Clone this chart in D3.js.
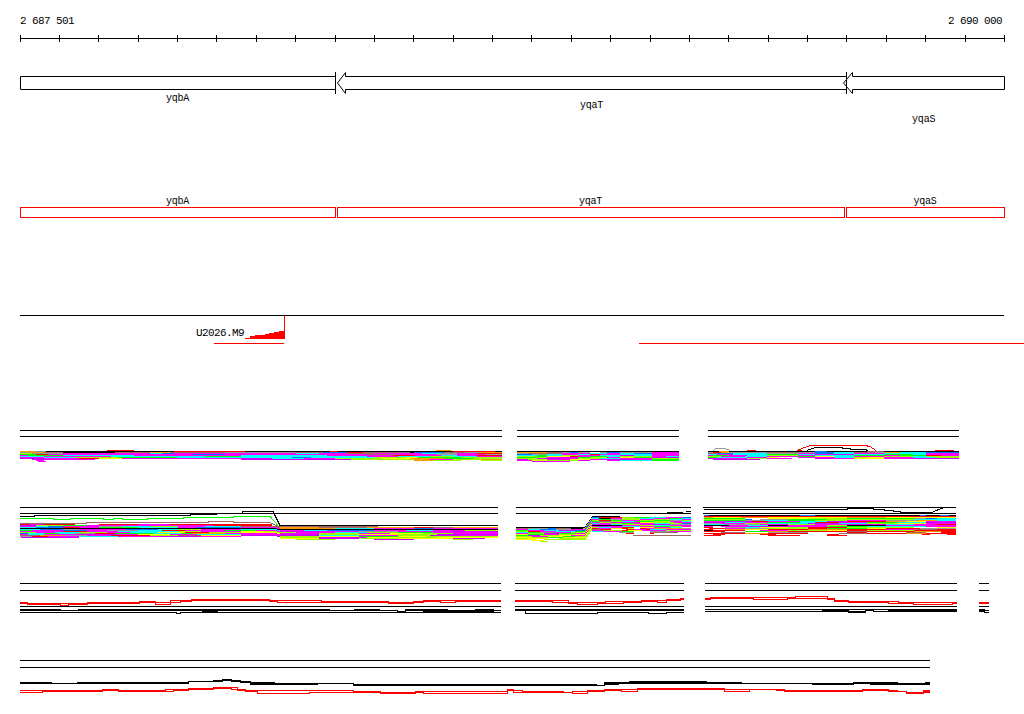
<!DOCTYPE html>
<html><head><meta charset="utf-8">
<script src="https://cdn.jsdelivr.net/npm/d3@7"></script>
<style>
body{margin:0;background:#fff}
svg{display:block}
text{font-family:"Liberation Mono","DejaVu Sans Mono",monospace;fill:#000}
</style>
</head><body>
<svg id="c" width="1024" height="714"></svg>
<script>
// ---------------- DATA ----------------
const START = 2687501, END = 2690000;           // genomic window
// genes (positions are bp offsets from START)
const geneNames  = ["yqbA", "yqaT", "yqaS"];
const geneStarts = [0, 805, 2091];
const geneEnds   = [800, 2098, 2499];
const geneStrand = ["+", "-", "-"];
const geneLabelRow = [0, 1, 2];
const cdsStarts  = [0, 805, 2098];
const cdsEnds    = [800, 2093, 2499];
const geneBounds = [800, 2098];
// motif U2026.M9 coverage histogram
const motifName = "U2026.M9";
const motifStart = 571, motifEnd = 671;
const motifCov = [1.4, 2.7, 3.7, 4.4, 5.0, 5.7, 6.7, 7.7];
const motifLines = [[493, 671], [1572, 2550]];

// colour codes used by read stripes
const colorCodes = {k:"#000000",r:"#ff0000",m:"#ff00ff",p:"#cc00ff",c:"#00ffff",b:"#0073ff",
  g:"#00ff00",l:"#99ff00",y:"#ffff00",o:"#ff9900",n:"#a06666",a:"#999999",w:"#ffffff"};

// ---- track 1 (reads, stripes: colour+start offset) ----
const t1p1 = ["-0 r220 -290 o1057 -1095",
 "o0 a35 k65 r390 k572 r787 k808 r1100 k1206",
 "a0 o25 n60 k110 n240 o330 n380 a520 n700 b770 r830 n870 k990 b1000 n1080 a1130 o1170",
 "l0 a30 m110 c330 b360 m390 c700 m760 n830 m900 c1020 a1070 m1110 r1160",
 "g0 r40 m70 b440 m520 n880 m960 a1060 m1110 a1180",
 "m0 g20 c110 m290 c560 m780 r950 m1000 c1070 m1110 r1160",
 "c0 m60 c230 g470 c560 m880 c960 l1040 c1100 m1160",
 "m0 c60 l140 g250 c400 b690 c740 l900 y980 g1010 l1120",
 "p0 m60 r150 y200 m260 p560 c640 m720 l800 y920 o990 g1080 l1150",
 "-0 p30 m70 -190 p560 l840 o1000 m1040 l1100 o1170",
 "-0 m40 -60 o1000 l1050 -1120 l1170",
 "-0 m45 -65"];
const t1p2 = ["k1262",
 "o1262 n1338 a1376 b1397 a1418 w1448 a1473 b1490 a1524 m1604",
 "a1262 n1290 m1376 c1448 m1490 c1524 b1560 m1604",
 "b1262 a1300 c1338 m1376 c1418 r1448 m1473 c1524 m1604",
 "c1262 g1312 c1338 l1376 m1418 c1473 p1524 c1560 m1604",
 "l1262 g1312 y1338 r1397 m1418 g1448 c1490 l1524 m1604 c1640",
 "g1262 l1312 m1338 p1376 g1418 l1448 m1490 y1524 g1560 p1604",
 "l1262 p1312 m1376 l1418 c1473 m1524 l1604",
 "p1262 l1290 m1338 y1397 m1448 p1490 m1560 g1604",
 "m1262 y1300 l1338 p1418 w1448 m1490 c1524 g1604",
 "-1262 p1300 m1338 -1397"];
const t1p3 = ["-1746 r1846 -1870 r1974 -1985 r2325 -2371",
 "k1746 o1775 k1800 b2019 k2050 n2150 k2193",
 "a1746 r1761 o1780 a1803 n1896 a1975 b2019 c2066 n2117 a2170 o2193 c2235 b2300",
 "n1746 b1770 c1810 a1896 m1975 b2019 c2066 m2117 c2193 m2300",
 "c1746 m1770 c1810 g1896 c1975 m2019 p2066 c2117 g2193 c2269 m2300",
 "m1746 g1761 m1800 c1846 l1896 m1975 c2019 g2117 m2193 g2235 r2300 m2340",
 "l1746 m1780 c1840 m1896 g1975 y2019 c2066 m2117 l2193 c2269 l2300",
 "g1746 c1770 m1846 y1896 w1930 m1975 c2066 l2117 y2150 m2193 c2269 l2325",
 "p1746 m1780 l1846 m1896 -1960 p2019 m2066 y2117 m2193 p2269",
 "-1746 p1761 -1880"];
const t1Arcs = [
 {color:"#999999", pts:[[1761,20],[1768,18],[1791,18],[1804,20]]},
 {color:"#ff0000", pts:[[1974,20],[1985,18],[1998,16],[2010,15],[2146,15],[2159,16],[2173,20]]},
 {color:"#000000", pts:[[1998,20],[2019,17],[2087,17],[2087,18],[2108,18],[2108,19],[2146,19],[2154,20]]}];

// ---- track 2 ----
const t2p1 = ["-0 r107 -168",
 "r0 m25 r60 w140 r200 m300 r380 -640",
 "p0 l40 g110 m170 r490 -640",
 "m0 c40 b70 m110 a200 c260 l330 m400 c470 n560 o660 n760 o880 r1000 n1050 o1100",
 "c0 b40 r110 m150 g200 c300 m400 b450 m560 o660 c800 m900 b1000 m1050",
 "k0",
 "c0 b50 a110 m150 b270 c350 l400 m460 c560 m660 c720 b780 m900 c980 m1050 l1130",
 "g0 m30 b110 m170 a220 c300 r360 m420 g520 m600 p660 m760 a860 m960 p1100",
 "m0 r110 m170 c250 l400 m460 y560 l620 m700 c800 l880 g960 m1050",
 "l0 m40 c90 l150 m220 c280 y350 r420 l480 y560 m660 l760 m860 y940 l1020 m1100",
 "b0 c20 g60 c100 a140 r190 g240 c340 g410 o440 m520 p660 l760 y860 l960 p1060",
 "m0 c20 m60 p150 m250 y300 m380 c450 m560 p660 c760 m860 l960 p1040 m1120",
 "n0 o50 a110 m170 r230 l330 n400 y460 p560 l660 y760 g860 y960 l1030",
 "a0 r30 m70 c150 m250 p350 m460 -560 l660 p760 y880 l960 y1060",
 "-0 p3 -150 -560 y660 p760 l860 y960 p1100 -1180",
 "-0 l700 -800 p900 -1000 l1100 -1150"];
const t2p2 = ["-1260 k1452 -1524",
 "k1260 b1452 r1470 l1530 g1560 c1600 m1640 b1680",
 "n1260 a1290 b1340 n1360 k1400 l1430 c1452 k1470 m1500 l1530 c1575 m1610 g1650 c1680",
 "m1260 c1290 b1320 a1360 m1400 m1452 g1470 a1500 l1530 m1575 l1610 c1650 m1680",
 "g1260 m1290 c1330 p1370 b1410 l1452 r1470 g1500 m1530 l1575 g1610 a1650 l1680",
 "l1260 r1290 m1320 c1360 g1410 g1452 n1470 l1500 c1530 g1560 l1610 m1650 c1680",
 "c1260 g1290 a1320 m1360 l1400 m1452 l1470 p1500 m1530 y1575 l1610 m1660",
 "m1260 l1290 p1330 g1370 m1410 c1452 m1470 l1500 g1530 m1560 c1610 l1650 b1680",
 "y1260 g1290 m1330 l1370 y1410 p1452 m1470 c1500 l1530 m1575 p1610 a1650",
 "g1260 p1290 l1320 y1370 m1400 k1452 m1530 l1575 c1610 m1650",
 "l1260 m1300 y1340 g1380 l1410 m1452 p1470 m1500 c1530 m1575 g1610 l1650 m1680",
 "y1260 l1300 g1340 y1380 l1452 c1470 m1500 r1530 w1560 y1575 m1610 c1650 w1680",
 "l1260 y1290 -1340 l1370 r1452 m1470 y1500 r1530 l1545 w1560 r1575 m1590 o1610 a1680",
 "y1260 -1310 l1330 n1452 r1475 w1500 r1540 m1560 r1590 c1600 m1640",
 "-1260 y1300 -1330 m1452 l1480 r1530 y1545 m1580 l1640",
 "-1260 l1320 -1340 c1452 m1480 g1530 w1560 a1600 m1650",
 "-1260 w1480 a1520 -1560 n1600 -1670",
 "-1260 r1540 -1560 r1600 -1610",
 "-1260",
 "-1260 n1557"];
const t2p3 = ["b1737 k1750 b1981 k2019 b2286 k2300 b2337 k2360",
 "r1737",
 "o1737 y1760 o1830 y1900 o2100 y2200",
 "g1737 w1842 y1900 l2000 g2100 a2270 b2300 c2330",
 "l1737 b1842 w1860 a1880 g1950 l2050 c2270",
 "g1737 a1842 c1890 g1950 l2020 m2100 a2200 o2280 c2330",
 "m1737 p1790 r1860 m1900 c1981 p2050 r2100 o2200 y2250 m2300",
 "p1737 c1790 m1840 g1900 c1981 r2019 m2080 g2150 c2230 p2300",
 "a1737 m1780 l1842 c1900 p2000 c2080 l2150 y2230 m2300",
 "c1737 a1790 m1880 l1950 m2019 p2100 c2200 m2270 r2330",
 "k1737 m1800 c1850 k1900 m1950 l2050 k2100 m2200",
 "m1737 w1760 m1780 p1850 m1950 g2050 c2150 m2300",
 "r1737 w1760 a1790 c1842 y1880 l1950 r2000 l2100 w2270 y2330",
 "w1737 r1750 m1790 a1842 l1900 r2000 g2050 y2150 r2200 a2286",
 "r1737 w1760 o1790 y1842 r1900 o2000 r2100 m2200 n2270 r2330",
 "k1737 r1760 w1842 m1880 l1950 y2050 r2100 l2150 r2270",
 "r1737 w1790 g1842 o1900 r1950 n2100 r2150 o2270 r2340",
 "w1737 n1780 w1842 a1900 w2000 r2100 w2150 n2250 w2300 r2340",
 "r1737 o1842 r1900 w2000 n2080 r2150 o2250 r2300",
 "-1737 r1760 -1790 r1880 -1920 r2050 -2080 r2290 -2310 r2355",
 "r1737 -1780 r1900 -1981 r2050 -2100"];
const t2Paths = [
 {color:"#000000", pts:[[0,9],[36,9],[36,8],[432,8],[432,7],[498,7],[498,6],[564,6],[564,4],[643,4],[660,18],[1214,18]]},
 {color:"#00ff00", pts:[[0,11],[84,11],[84,12],[127,12],[127,11],[211,11],[211,12],[236,12],[236,11],[259,11],[259,12],[323,12],[323,11],[414,11],[414,10],[541,10],[541,9],[635,9],[655,18]]},
 {color:"#a06666", pts:[[0,16],[168,16],[168,15],[478,15],[478,14],[541,14],[541,15],[635,15],[655,19],[910,19]]},
 {color:"#000000", pts:[[1643,5],[1684,5]]},
 {color:"#000000", pts:[[1692,4],[1704,4]]},
 {color:"#000000", pts:[[1737,2],[2101,2],[2101,1],[2167,1],[2167,2],[2193,2],[2193,3],[2218,3],[2218,4],[2235,4],[2235,5],[2317,5],[2340,1],[2350,0],[2375,0]]}];

// ---- track 3 (paired traces: [offset, lineA, lineB, solid]) ----
const t3p1Red = [[0,19,20],[18,20,21],[102,20,22],[122,20,21],[170,19,20],[302,18,19],[343,19,21],[381,17,19],[406,17,18],[434,16,17],[632,17,18],[653,17,19],[765,18,19],[935,19,20],[998,18,19],[1024,17,18],[1067,17,19],[1105,17,18]];
const t3p1K2 = [[0,26,27],[102,27,27],[147,26,27],[785,27,27],[848,26,27],[912,27,27],[958,28,28],[978,26,27],[1084,27,27],[1156,26,27],[1201,27,27]];
const t3p1K3 = [[0,29,29],[396,30,30],[406,29,29],[462,28,29],[500,29,29],[958,28,29],[978,29,29],[1023,28,29],[1201,29,29]];
const t3p2Red = [[1257,17,18],[1351,17,19],[1392,19,20],[1414,19,21],[1465,19,20],[1486,18,20],[1531,18,19],[1577,17,18],[1618,17,19],[1641,16,17],[1676,15,16]];
const t3p2K2 = [[1257,26,27]];
const t3p2K3 = [[1257,27,27],[1283,30,30],[1465,29,29],[1595,30,30],[1641,29,29]];
const t3p3Red = [[1740,15,16],[1753,14,15],[1862,14,16],[1947,14,15],[1969,13,15],[2049,15,16],[2066,17,18],[2104,18,19],[2205,18,20],[2230,19,20],[2269,19,21],[2367,19,20]];
const t3p3K2 = [[1740,26,26]];
const t3p3K3 = [[1740,28,28],[2036,26,28,1],[2104,28,29],[2146,27,27],[2167,28,28],[2205,26,28,1]];
const t3p4Red = [[2435,19,20]];
const t3p4K2 = [[2435,26,28,1],[2447,27,29]];

// ---- track 4 ----
const t4Black = [[0,22,23],[79,23,23],[145,22,23],[427,21,21],[490,20,21],[513,19,20],[536,20,21],[559,21,22],[584,22,24,1],[645,23,24],[754,23,23],[846,24,25],[1463,25,25],[1483,22,24,1],[1519,22,23],[1547,21,23,1],[1742,22,23],[1831,23,23],[2011,23,24],[2116,22,23],[2159,22,24,1],[2227,23,24],[2299,22,24,1]];
const t4Red = [[0,30,32],[56,30,31],[208,29,30],[249,30,31],[368,29,31],[389,29,30],[427,28,29],[490,27,28],[536,27,29],[551,29,30],[572,30,31],[602,30,33],[668,30,33],[734,30,32],[846,31,32],[914,32,33],[1003,31,32],[1024,31,33],[1237,29,30],[1252,30,32],[1275,31,32],[1380,32,32],[1402,31,33],[1441,30,31],[1483,29,30],[1526,29,31],[1568,28,29],[1789,29,31],[1852,29,29],[1920,29,30],[1941,30,31],[2139,29,30],[2205,30,31],[2227,31,31],[2250,32,33],[2293,30,32,1]];

// ---------------- DRAW ----------------
const svg = d3.select("#c");
const x = d3.scaleLinear().domain([0, END - START]).range([20, 1004]);
const X = o => Math.round(x(o));
const fmt = d3.formatLocale({decimal:".", thousands:" ", grouping:[3], currency:["",""]}).format(",d");
const root = svg.append("g").attr("shape-rendering","crispEdges");

// ruler
const gx = d3.scaleLinear().domain([START, END]).range([20, 1004]);
root.append("line").attr("x1",20).attr("x2",1004).attr("y1",38.5).attr("y2",38.5).attr("stroke","#000");
const ticks = [START].concat(d3.range(2687600, END + 1, 100));
root.selectAll(".tk").data(ticks).join("line")
  .attr("x1", d => Math.round(gx(d)) + 0.5).attr("x2", d => Math.round(gx(d)) + 0.5)
  .attr("y1", 35).attr("y2", 42).attr("stroke","#000");
svg.append("text").attr("x",20).attr("y",24).style("font-size","11px").style("letter-spacing","-0.6px").text(fmt(START));
svg.append("text").attr("x",1002).attr("y",24).attr("text-anchor","end").style("font-size","11px").style("letter-spacing","-0.6px").text(fmt(END));

// gene arrows
const gTop = 76.5, gBot = 89.5, hTop = 72.5, hBot = 93.5, head = 21;
geneNames.forEach((nm, i) => {
  const s = geneStarts[i], e = geneEnds[i];
  let pts;
  if (geneStrand[i] === "-") {
    pts = [[X(s), 83], [X(s + head), hTop], [X(s + head), gTop], [X(e), gTop], [X(e), gBot], [X(s + head), gBot], [X(s + head), hBot]];
  } else {
    pts = [[X(s), gTop], [X(e), gTop], [X(e), gBot], [X(s), gBot]];
  }
  root.append("polygon").attr("points", pts.map(p => [p[0] + 0.5, p[1]].join(",")).join(" "))
    .attr("fill","#fff").attr("stroke","#000").attr("stroke-width",1).attr("shape-rendering","auto");
});
geneBounds.forEach(b => root.append("line").attr("x1",X(b)+0.5).attr("x2",X(b)+0.5).attr("y1",72).attr("y2",94).attr("stroke","#000"));
const labelY = [100.5, 107.5, 121.5];
geneNames.forEach((nm, i) => {
  svg.append("text").attr("x", x((geneStarts[i] + geneEnds[i]) / 2)).attr("y", labelY[geneLabelRow[i]])
    .attr("text-anchor","middle").style("font-size","10px").style("letter-spacing","-0.2px").text(nm);
});

// CDS boxes (red)
geneNames.forEach((nm, i) => {
  root.append("rect").attr("x", X(cdsStarts[i]) + 0.5).attr("y", 207.5)
    .attr("width", X(cdsEnds[i]) - X(cdsStarts[i])).attr("height", 10)
    .attr("fill","none").attr("stroke","#ff0000");
  svg.append("text").attr("x", x((cdsStarts[i] + cdsEnds[i]) / 2)).attr("y", 204)
    .attr("text-anchor","middle").style("font-size","10px").style("letter-spacing","-0.2px").text(nm);
});

// motif track
root.append("line").attr("x1",20).attr("x2",1004).attr("y1",315.5).attr("y2",315.5).attr("stroke","#000");
const covY = d3.scaleLinear().domain([0, 8]).range([339, 331]);
const binW = (motifEnd - motifStart) / motifCov.length;
const covPts = motifCov.map((v, i) => [motifStart + i * binW, v]).concat([[motifEnd, motifCov[motifCov.length - 1]]]);
root.append("path").datum(covPts)
  .attr("d", d3.area().x(d => X(d[0])).y0(covY(0)).y1(d => covY(d[1])).curve(d3.curveStepAfter))
  .attr("fill","#ff0000");
root.append("line").attr("x1",X(motifEnd)+0.5).attr("x2",X(motifEnd)+0.5).attr("y1",315).attr("y2",339).attr("stroke","#ff0000");
motifLines.forEach(l => root.append("line").attr("x1",X(l[0])).attr("x2",X(l[1])).attr("y1",343.5).attr("y2",343.5).attr("stroke","#ff0000"));
svg.append("text").attr("x", X(motifStart) - 1).attr("y", 336).attr("text-anchor","end")
  .style("font-size","11px").style("letter-spacing","-0.6px").text(motifName);

// helpers
function parseStripe(str, end) {
  const toks = str.trim().split(/\s+/).map(t => ({c: t[0], s: +t.slice(1)}));
  return toks.map((t, i) => ({c: t.c, s: t.s, e: i < toks.length - 1 ? toks[i + 1].s : end}));
}
function refLines(top, gap, s, e) {
  [top, top + gap].forEach(yy => root.append("line").attr("x1",X(s)).attr("x2",X(e)).attr("y1",yy+0.5).attr("y2",yy+0.5).attr("stroke","#000"));
}
function stripes(top, base, rows, end, profile) {
  const yL = d3.scaleLinear().domain([0, 100]).range([top, top + 100]);
  const shift = profile ? d3.scaleLinear().domain(profile.map(p => p[0])).range(profile.map(p => p[1])).clamp(true) : () => 0;
  const brk = profile ? profile.map(p => p[0]) : [];
  const g = root.append("g");
  rows.forEach((row, i) => {
    parseStripe(row, end).forEach(sg => {
      if (sg.c === "-" || sg.e <= sg.s) return;
      const os = [sg.s].concat(brk.filter(b => b > sg.s && b < sg.e), [sg.e]);
      const line = d3.line().x(o => X(o)).y(o => Math.round(yL(base + i + shift(o))) + 0.5);
      g.append("path").attr("d", line(os)).attr("fill","none").attr("stroke", colorCodes[sg.c]).attr("stroke-width",1);
    });
  });
}
function paths(top, list) {
  const yL = d3.scaleLinear().domain([0, 100]).range([top, top + 100]);
  list.forEach(p => {
    root.append("path").attr("d", d3.line().x(d => X(d[0])).y(d => Math.round(yL(d[1])) + 0.5)(p.pts))
      .attr("fill","none").attr("stroke", p.color).attr("stroke-width",1);
  });
}
function trace(top, segs, end, color) {
  const yL = d3.scaleLinear().domain([0, 100]).range([top, top + 100]);
  const pts = segs.concat([[end, segs[segs.length-1][1], segs[segs.length-1][2]]]);
  [1, 2].forEach(k => {
    root.append("path").datum(pts)
      .attr("d", d3.line().x(d => X(d[0])).y(d => Math.round(yL(d[k])) + 0.5).curve(d3.curveStepAfter))
      .attr("fill","none").attr("stroke", color).attr("stroke-width",1);
  });
  segs.forEach((s, i) => {
    if (s[3]) {
      const e = i < segs.length - 1 ? segs[i+1][0] : end;
      root.append("rect").attr("x", X(s[0])).attr("y", yL(s[1])).attr("width", X(e) - X(s[0]))
        .attr("height", yL(s[2]) - yL(s[1]) + 1).attr("fill", color);
    }
  });
}

// track 1
const T1 = 430;
[[0,1224],[1262,1674],[1746,2385]].forEach(p => refLines(T1, 6, p[0], p[1]));
stripes(T1, 20, t1p1, 1224);
stripes(T1, 21, t1p2, 1674);
stripes(T1, 20, t1p3, 2385);
paths(T1, t1Arcs);

// track 2
const T2 = 507;
[[0,1214],[1260,1704],[1735,2377]].forEach(p => refLines(T2, 6, p[0], p[1]));
stripes(T2, 16, t2p1, 1214, [[643,0],[660,1]]);
stripes(T2, 19, t2p2, 1704, [[1435,0],[1452,-10]]);
stripes(T2, 8, t2p3, 2377);
paths(T2, t2Paths);

// track 3
const T3 = 583;
const t3Panels = [[0,1222],[1257,1687],[1740,2380],[2435,2462]];
t3Panels.forEach(p => refLines(T3, 7, p[0], p[1]));
t3Panels.forEach(p => trace(T3, [[p[0],23,23]], p[1], "#000"));
trace(T3, t3p1Red, 1222, "#ff0000"); trace(T3, t3p1K2, 1222, "#000"); trace(T3, t3p1K3, 1222, "#000");
trace(T3, t3p2Red, 1687, "#ff0000"); trace(T3, t3p2K2, 1687, "#000"); trace(T3, t3p2K3, 1687, "#000");
trace(T3, t3p3Red, 2380, "#ff0000"); trace(T3, t3p3K2, 2380, "#000"); trace(T3, t3p3K3, 2380, "#000");
trace(T3, t3p4Red, 2462, "#ff0000"); trace(T3, t3p4K2, 2462, "#000");

// track 4
const T4 = 660;
refLines(T4, 7, 0, 2311);
trace(T4, t4Black, 2311, "#000");
trace(T4, t4Red, 2311, "#ff0000");
</script>
</body></html>
